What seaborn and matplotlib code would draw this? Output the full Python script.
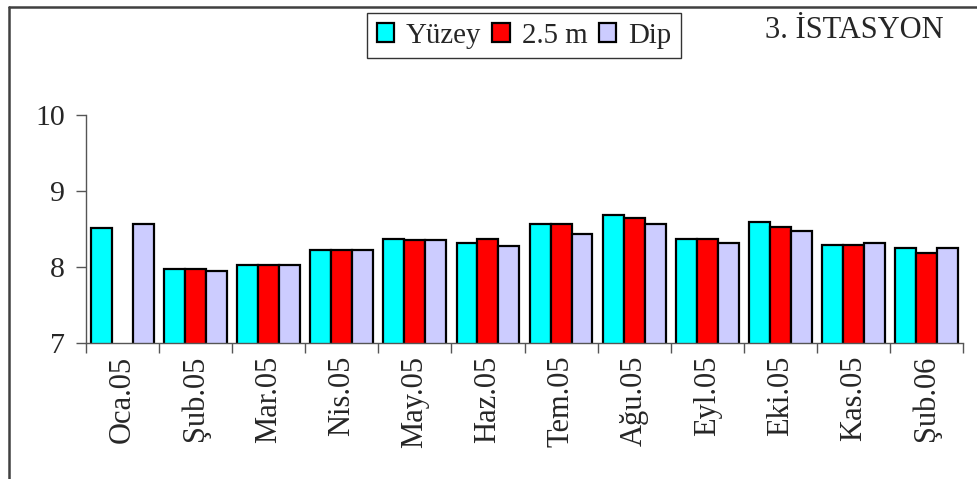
import numpy as np
import pandas as pd
import matplotlib
matplotlib.use("Agg")
import matplotlib.pyplot as plt
from matplotlib.lines import Line2D
from matplotlib.ticker import FixedLocator
import seaborn as sns

# Monthly measurements at station 3 for three depths
months = ["Oca.05", "Şub.05", "Mar.05", "Nis.05", "May.05", "Haz.05",
          "Tem.05", "Ağu.05", "Eyl.05", "Eki.05", "Kas.05", "Şub.06"]
yuzey = [8.51, 7.98, 8.03, 8.22, 8.37, 8.32, 8.56, 8.69, 8.37, 8.59, 8.29, 8.25]
m25 = [np.nan, 7.98, 8.03, 8.22, 8.35, 8.37, 8.56, 8.64, 8.37, 8.53, 8.29, 8.19]
dip = [8.56, 7.95, 8.03, 8.22, 8.35, 8.27, 8.43, 8.56, 8.32, 8.48, 8.32, 8.25]
series_names = ["Yüzey", "2.5 m", "Dip"]
series_colors = ["#00FFFF", "#FF0000", "#CCCCFF"]
y_ticks = [7, 8, 9, 10]

df = pd.DataFrame({
    "Ay": months * 3,
    "Derinlik": [series_names[0]] * 12 + [series_names[1]] * 12 + [series_names[2]] * 12,
    "Değer": yuzey + m25 + dip,
})

sns.set_style("white")
plt.rcParams["font.family"] = ["Liberation Serif", "DejaVu Serif"]

W, H = 977, 479
fig = plt.figure(figsize=(W / 100, H / 100), dpi=100)
ax = fig.add_axes([86 / W, (H - 343) / H, (963 - 86) / W, (343 - 115) / H])

sns.barplot(data=df, x="Ay", y="Değer", hue="Derinlik", order=months,
            hue_order=series_names, palette=series_colors, errorbar=None,
            width=0.86, edgecolor="black", linewidth=1.6, saturation=1,
            legend=False, ax=ax)

ax.set_xlim(-0.5, len(months) - 0.5)
ax.set_ylim(7, 10)
ax.set_xlabel("")
ax.set_ylabel("")

# Tick marks between categories, labels at category centres
ax.xaxis.set_major_locator(FixedLocator(np.arange(-0.5, len(months), 1.0)))
ax.xaxis.set_minor_locator(FixedLocator(np.arange(len(months))))
ax.set_xticklabels([], minor=False)
ax.set_xticklabels(months, minor=True, rotation=90, fontsize=22)
ax.tick_params(axis="x", which="major", direction="out", length=7, width=1,
               color="#555555", bottom=True)
ax.tick_params(axis="x", which="minor", length=0, pad=9, bottom=True)

ax.set_yticks(y_ticks)
ax.set_yticklabels([str(v) for v in y_ticks], fontsize=21.5)
ax.tick_params(axis="y", direction="out", length=7, width=1, color="#555555",
               pad=8, left=True)

for side in ["top", "right"]:
    ax.spines[side].set_visible(False)
for side in ["left", "bottom"]:
    ax.spines[side].set_color("#555555")
    ax.spines[side].set_linewidth(1)

# Legend with square swatches
handles = [plt.Rectangle((0, 0), 1, 1, facecolor=c, edgecolor="black", linewidth=1.6)
           for c in series_colors]
leg = fig.legend(handles, series_names, loc="upper left",
                 bbox_to_anchor=(367 / W, 1 - 13 / H), ncol=3, fontsize=20.8,
                 frameon=True, fancybox=False, handlelength=0.6, handleheight=0.6,
                 handletextpad=0.42, columnspacing=0.38, borderpad=0.33,
                 borderaxespad=0)
leg.get_frame().set_edgecolor("black")
leg.get_frame().set_linewidth(1)

fig.text(765 / W, 1 - 16 / H, "3. İSTASYON", fontsize=22, ha="left", va="top")

# Frame lines along the top and left of the figure
fig.add_artist(Line2D([9 / W, 1], [1 - 6.5 / H, 1 - 6.5 / H],
                      transform=fig.transFigure, color="#404040", linewidth=1.8))
fig.add_artist(Line2D([9 / W, 9 / W], [0, 1 - 6.5 / H],
                      transform=fig.transFigure, color="#404040", linewidth=1.8))

fig.savefig("out.png", dpi=100, facecolor="white")
